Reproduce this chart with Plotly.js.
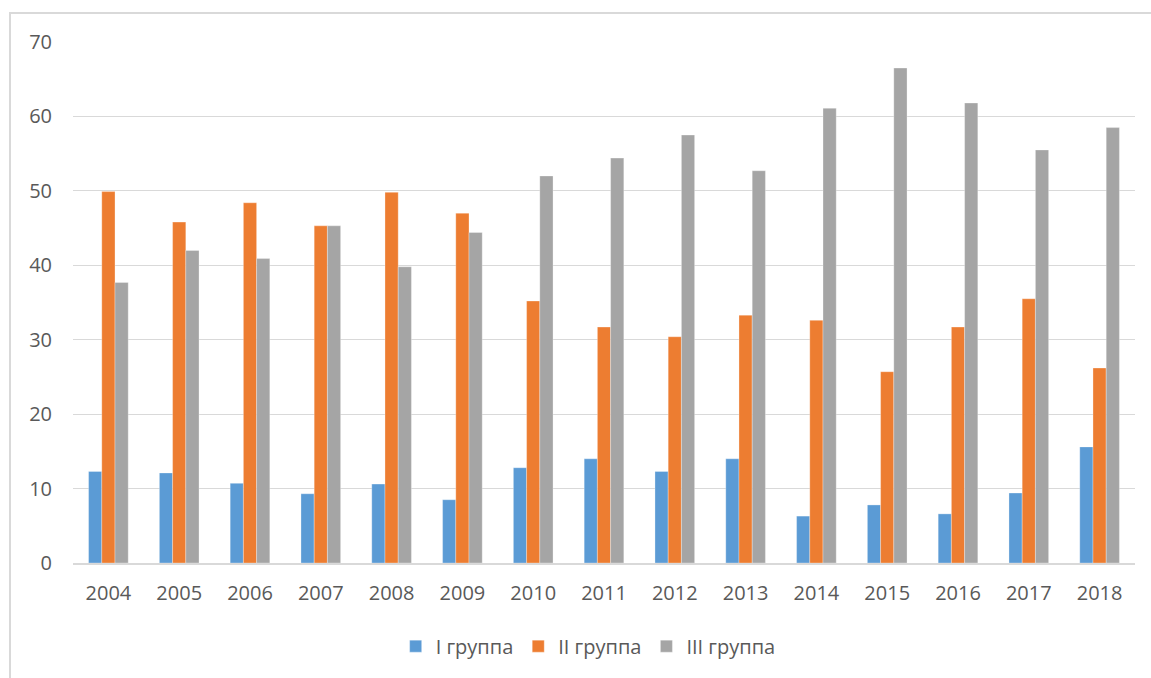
<!DOCTYPE html>
<html>
<head>
<meta charset="utf-8">
<script src="https://cdn.plot.ly/plotly-3.0.1.min.js"></script>
<style>
  html, body { margin: 0; padding: 0; background: #ffffff; }
  #wrap { position: relative; width: 1151px; height: 678px; overflow: hidden; }
  #chart { position: absolute; left: 0; top: 0; width: 1151px; height: 678px; }
  #frame { position: absolute; left: 9px; top: 12px; width: 1200px; height: 700px;
           border-left: 2px solid #D9D9D9; border-top: 2px solid #D9D9D9; pointer-events: none; }
</style>
</head>
<body>
<div id="wrap">
  <div id="chart"></div>
  <div id="frame"></div>
</div>
<script>
const years = ['2004','2005','2006','2007','2008','2009','2010','2011','2012','2013','2014','2015','2016','2017','2018'];
const seriesNames = ['I группа', 'II группа', 'III группа'];
const group1 = [12.3, 12.1, 10.7, 9.3, 10.6, 8.5, 12.8, 14.0, 12.3, 14.0, 6.3, 7.8, 6.6, 9.4, 15.6];
const group2 = [49.9, 45.8, 48.4, 45.3, 49.8, 47.0, 35.2, 31.7, 30.4, 33.3, 32.6, 25.7, 31.7, 35.5, 26.2];
const group3 = [37.7, 42.0, 40.9, 45.3, 39.8, 44.4, 52.0, 54.4, 57.5, 52.7, 61.1, 66.5, 61.8, 55.5, 58.5];
const colors = ['#5B9BD5', '#ED7D31', '#A5A5A5'];

const traces = [group1, group2, group3].map((vals, i) => ({
  type: 'bar',
  name: seriesNames[i],
  x: years,
  y: vals,
  marker: { color: colors[i], line: { color: 'rgba(255,255,255,0.6)', width: 0.5 } },
  hoverinfo: 'x+y+name'
}));

const layout = {
  width: 1151,
  height: 678,
  margin: { l: 73, r: 16, t: 42, b: 115, autoexpand: false },
  paper_bgcolor: 'rgba(0,0,0,0)',
  plot_bgcolor: '#ffffff',
  barmode: 'group',
  bargap: 0.44,
  bargroupgap: 0,
  font: { family: 'Open Sans, sans-serif', color: '#595959' },
  xaxis: {
    type: 'category',
    showgrid: false,
    showline: true,
    linecolor: '#D9D9D9',
    linewidth: 1.5,
    ticks: 'outside',
    ticklen: 11,
    tickcolor: 'rgba(0,0,0,0)',
    tickfont: { size: 20, color: '#595959' },
    automargin: false,
    fixedrange: true
  },
  yaxis: {
    range: [0, 70],
    dtick: 10,
    tick0: 0,
    showgrid: true,
    gridcolor: '#D9D9D9',
    gridwidth: 1.2,
    zeroline: false,
    showline: false,
    ticks: 'outside',
    ticklen: 16,
    tickcolor: 'rgba(0,0,0,0)',
    tickfont: { size: 20, color: '#595959' },
    automargin: false,
    fixedrange: true
  },
  showlegend: true,
  legend: {
    orientation: 'h',
    xref: 'container',
    yref: 'container',
    x: 0.511,
    xanchor: 'center',
    y: 0.047,
    yanchor: 'middle',
    font: { size: 20, color: '#595959' },
    itemclick: false,
    itemdoubleclick: false
  }
};

Plotly.newPlot('chart', traces, layout, { displayModeBar: false, staticPlot: true });
</script>
</body>
</html>
